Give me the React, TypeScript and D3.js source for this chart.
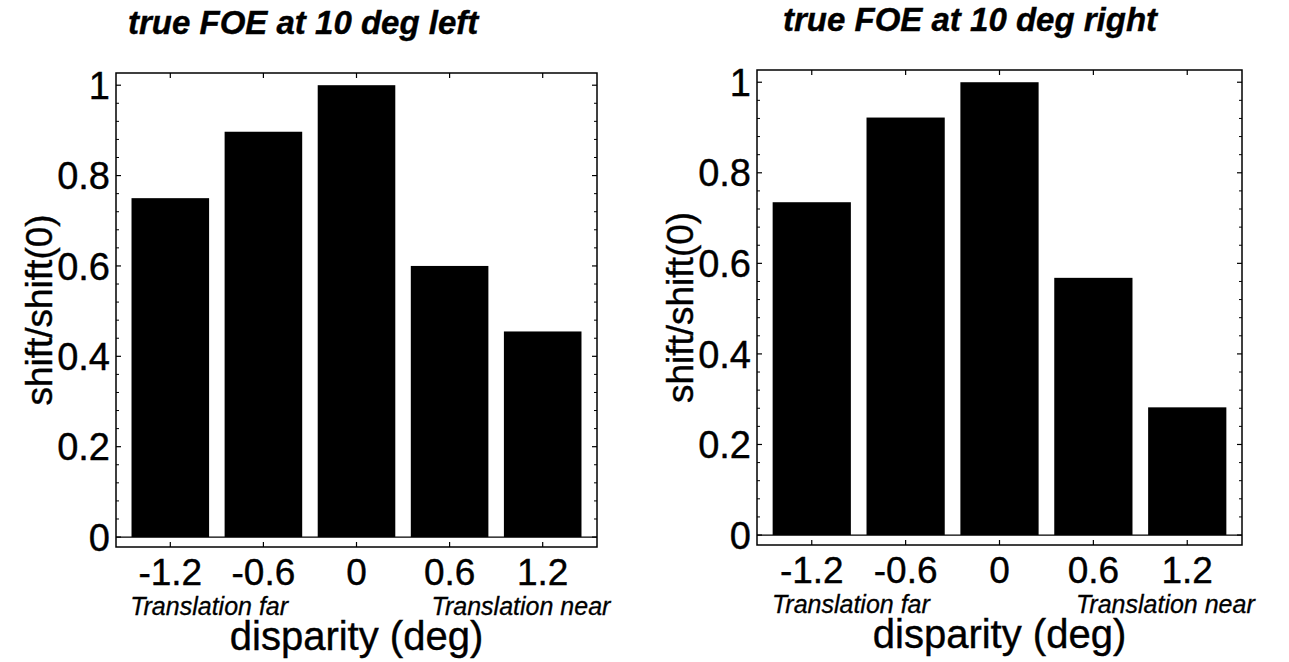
import React from "react";
import * as d3 from "d3";

const disparities = [-1.2, -0.6, 0, 0.6, 1.2];
const xTickLabels = ["-1.2", "-0.6", "0", "0.6", "1.2"];
const leftValues = [0.75, 0.897, 1.0, 0.6, 0.455];
const rightValues = [0.735, 0.922, 1.0, 0.568, 0.282];
const yTicks = [0, 0.2, 0.4, 0.6, 0.8, 1];
const yTickLabels = ["0", "0.2", "0.4", "0.6", "0.8", "1"];
const titles = ["true FOE at 10 deg left", "true FOE at 10 deg right"];
const sideLabels = ["Translation far", "Translation near"];
const xLabel = "disparity (deg)";
const yLabel = "shift/shift(0)";

const FONT = "'Liberation Sans', Arial, Helvetica, sans-serif";

type Box = { x0: number; x1: number; y0: number; y1: number; titleDx: number };

function Panel({ box, values, title }: { box: Box; values: number[]; title: string }) {
  const x = d3.scaleLinear().domain([-1.55, 1.55]).range([box.x0, box.x1]);
  const y = d3.scaleLinear().domain([-0.022, 1.027]).range([box.y1, box.y0]);
  const barW = x(0.25) - x(-0.25);
  const minor = d3.range(0, 1.0001, 0.04).filter((v) => !yTicks.some((t) => Math.abs(t - v) < 1e-6));
  const cx = (box.x0 + box.x1) / 2;
  const txt = { fontFamily: FONT, fill: "#000", stroke: "#000", strokeWidth: 0.4 };
  return (
    <g>
      <text x={box.x0 + box.titleDx} y={box.y0 - 39} textAnchor="start" {...txt} fontSize={33} fontWeight="bold" fontStyle="italic">
        {title}
      </text>
      {values.map((v, i) => (
        <rect key={i} x={x(disparities[i]) - barW / 2} y={y(v)} width={barW} height={y(0) - y(v)} fill="#000" />
      ))}
      <line x1={box.x0} x2={box.x1} y1={y(0)} y2={y(0)} stroke="#000" strokeWidth={1.2} />
      <rect x={box.x0} y={box.y0} width={box.x1 - box.x0} height={box.y1 - box.y0} fill="none" stroke="#000" strokeWidth={1.5} />
      {yTicks.map((t, i) => (
        <g key={"yt" + i}>
          <line x1={box.x0} x2={box.x0 + 5} y1={y(t)} y2={y(t)} stroke="#000" strokeWidth={1.2} />
          <line x1={box.x1} x2={box.x1 - 5} y1={y(t)} y2={y(t)} stroke="#000" strokeWidth={1.2} />
          <text x={box.x0 - 6} y={y(t)} dy="0.36em" textAnchor="end" {...txt} fontSize={38}>
            {yTickLabels[i]}
          </text>
        </g>
      ))}
      {minor.map((t, i) => (
        <g key={"ym" + i}>
          <line x1={box.x0} x2={box.x0 + 3} y1={y(t)} y2={y(t)} stroke="#000" strokeWidth={1} />
          <line x1={box.x1} x2={box.x1 - 3} y1={y(t)} y2={y(t)} stroke="#000" strokeWidth={1} />
        </g>
      ))}
      {disparities.map((d, i) => (
        <g key={"xt" + i}>
          <line x1={x(d)} x2={x(d)} y1={box.y1} y2={box.y1 - 5} stroke="#000" strokeWidth={1.2} />
          <line x1={x(d)} x2={x(d)} y1={box.y0} y2={box.y0 + 5} stroke="#000" strokeWidth={1.2} />
          <text x={x(d)} y={box.y1 + 38} textAnchor="middle" {...txt} fontSize={37}>
            {xTickLabels[i]}
          </text>
        </g>
      ))}
      <text x={x(-0.95)} y={box.y1 + 68} textAnchor="middle" {...txt} strokeWidth={0.3} fontSize={25} fontStyle="italic">
        {sideLabels[0]}
      </text>
      <text x={x(1.06)} y={box.y1 + 68} textAnchor="middle" {...txt} strokeWidth={0.3} fontSize={25} fontStyle="italic">
        {sideLabels[1]}
      </text>
      <text x={cx} y={box.y1 + 103} textAnchor="middle" {...txt} fontSize={40}>
        {xLabel}
      </text>
      <text
        transform={`translate(${box.x0 - 64},${(box.y0 + box.y1) / 2}) rotate(-90)`}
        textAnchor="middle"
        {...txt}
        fontSize={37}
      >
        {yLabel}
      </text>
    </g>
  );
}

export default function App() {
  const boxes: Box[] = [
    { x0: 116, x1: 597, y0: 73, y1: 547, titleDx: 12 },
    { x0: 757, x1: 1242, y0: 70, y1: 545, titleDx: 26 },
  ];
  const series = [leftValues, rightValues];
  return (
    <svg width={1289} height={662} style={{ position: "absolute", left: 0, top: 0, background: "#fff" }}>
      <rect width={1289} height={662} fill="#fff" />
      {boxes.map((b, i) => (
        <Panel key={i} box={b} values={series[i]} title={titles[i]} />
      ))}
    </svg>
  );
}
